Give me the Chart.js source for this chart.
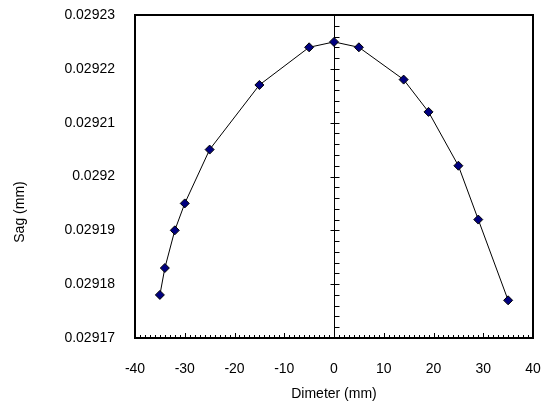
<!DOCTYPE html>
<html><head><meta charset="utf-8">
<style>html,body{margin:0;padding:0;background:#fff}#wrap{width:544px;height:413px;position:relative}</style>
<script src="https://cdn.jsdelivr.net/npm/chart.js@4/dist/chart.umd.min.js"></script>
</head><body><div id="wrap"><canvas id="c"></canvas></div>
<script>
const diameter = [-35, -34, -32, -30, -25, -15, -5, 0, 5, 14, 19, 25, 29, 35];
const sag = [0.029178, 0.029183, 0.02919, 0.029195, 0.029205, 0.029217, 0.029224, 0.029225, 0.029224, 0.029218, 0.029212, 0.029202, 0.029192, 0.029177];
const xTickValues = [-40, -30, -20, -10, 0, 10, 20, 30, 40];
const yTickValues = [0.02917, 0.02918, 0.02919, 0.0292, 0.02921, 0.02922, 0.02923];
const xTitle = 'Dimeter (mm)';
const yTitle = 'Sag (mm)';

const FONT = '"Liberation Sans", Arial, Helvetica, sans-serif';

const framePlugin = {
  id: 'framePlugin',
  beforeDatasetsDraw(chart) {
    const {ctx, chartArea: a, scales: {x, y}} = chart;
    ctx.save();
    ctx.strokeStyle = '#000';
    ctx.lineWidth = 1;
    const x0 = Math.round(x.getPixelForValue(0)) + 0.5;
    ctx.beginPath();
    ctx.moveTo(x0, a.top);
    ctx.lineTo(x0, a.bottom);
    const yMin = yTickValues[0], yMax = yTickValues[yTickValues.length - 1];
    const yStep = (yTickValues[1] - yTickValues[0]) / 5;
    for (let i = 0; i <= Math.round((yMax - yMin) / yStep); i++) {
      const v = yMin + i * yStep;
      const py = Math.round(y.getPixelForValue(v)) + 0.5;
      if (i % 5 === 0) { ctx.moveTo(x0 - 4, py); ctx.lineTo(x0 + 5, py); }
      else { ctx.moveTo(x0, py); ctx.lineTo(x0 + 5, py); }
    }
    const xMin = xTickValues[0], xMax = xTickValues[xTickValues.length - 1];
    for (let v = xMin; v <= xMax; v++) {
      const px = Math.round(x.getPixelForValue(v)) + 0.5;
      const len = (v % 10 === 0) ? 5 : 3;
      ctx.moveTo(px, a.bottom);
      ctx.lineTo(px, a.bottom - len);
    }
    ctx.stroke();
    ctx.lineWidth = 2;
    ctx.strokeRect(Math.round(a.left), Math.round(a.top), Math.round(a.right - a.left), Math.round(a.bottom - a.top));
    ctx.restore();
  },
  afterDraw(chart) {
    const {ctx} = chart;
    ctx.save();
    ctx.fillStyle = '#000';
    ctx.font = '14px ' + FONT;
    ctx.textAlign = 'center';
    ctx.textBaseline = 'middle';
    ctx.translate(20, 212);
    ctx.rotate(-Math.PI / 2);
    ctx.fillText(yTitle, 0, 0);
    ctx.restore();
  }
};

new Chart(document.getElementById('c'), {
  type: 'scatter',
  data: {
    datasets: [{
      data: diameter.map((d, i) => ({x: d, y: sag[i]})),
      showLine: true,
      borderColor: '#000',
      borderWidth: 1,
      pointStyle: 'rectRot',
      pointRadius: 4.5,
      pointHoverRadius: 4.5,
      pointBackgroundColor: '#000080',
      pointBorderColor: '#000',
      pointBorderWidth: 1
    }]
  },
  options: {
    responsive: true,
    maintainAspectRatio: false,
    animation: false,
    events: [],
    layout: {autoPadding: false, padding: {left: 0, right: 11, top: 15, bottom: 10}},
    plugins: {legend: {display: false}, tooltip: {enabled: false}},
    scales: {
      x: {
        type: 'linear',
        min: xTickValues[0],
        max: xTickValues[xTickValues.length - 1],
        afterBuildTicks: s => { s.ticks = xTickValues.map(v => ({value: v})); },
        afterFit: s => { s.height = 65; },
        grid: {display: false, drawTicks: true, tickLength: 23},
        border: {display: false},
        ticks: {color: '#000', padding: 0, font: {family: FONT, size: 14}, maxRotation: 0,
                callback: v => String(v)},
        title: {display: true, text: xTitle, color: '#000', padding: 0, font: {family: FONT, size: 14}}
      },
      y: {
        type: 'linear',
        min: yTickValues[0],
        max: yTickValues[yTickValues.length - 1],
        afterBuildTicks: s => { s.ticks = yTickValues.map(v => ({value: v})); },
        afterFit: s => { s.width = 135; },
        grid: {display: false, drawTicks: true, tickLength: 20},
        border: {display: false},
        ticks: {color: '#000', padding: 0, font: {family: FONT, size: 14},
                callback: v => String(+(+v).toFixed(5))}
      }
    }
  },
  plugins: [framePlugin]
});
</script>
</body></html>
